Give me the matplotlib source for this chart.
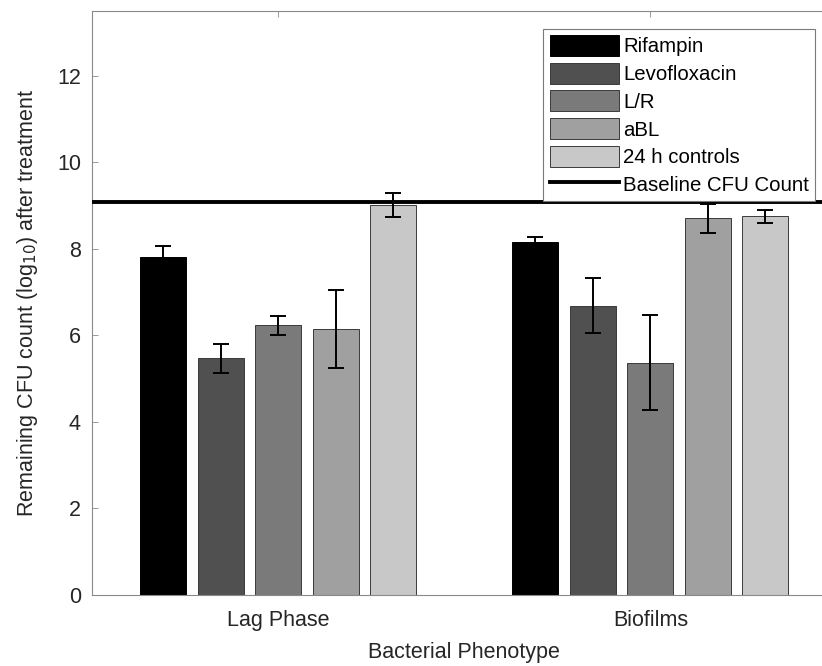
import matplotlib
matplotlib.use("Agg")
import matplotlib.pyplot as plt
import numpy as np

# ── data ──────────────────────────────────────────────
phenotypes = ["Lag Phase", "Biofilms"]
treatments = ["Rifampin", "Levofloxacin", "L/R", "aBL", "24 h controls"]
bar_colors = ["#000000", "#505050", "#7a7a7a", "#a0a0a0", "#c8c8c8"]

# mean log10 CFU, rows = treatment, cols = phenotype
means = [
    [7.82, 8.15],   # Rifampin
    [5.47, 6.69],   # Levofloxacin
    [6.24, 5.37],   # L/R
    [6.15, 8.71],   # aBL
    [9.02, 8.75],   # 24 h controls
]
errors = [
    [0.24, 0.13],
    [0.34, 0.64],
    [0.22, 1.10],
    [0.90, 0.34],
    [0.28, 0.16],
]
baseline = 9.09

plt.rcParams["font.family"] = ["Liberation Sans", "DejaVu Sans"]

fig = plt.figure(figsize=(8.22, 6.66), dpi=100)
# axes run past the right edge of the figure, as in the clipped original
ax = fig.add_axes([92 / 822, 71 / 666, (836.5 - 92) / 822, 584 / 666])

x = np.arange(1, len(phenotypes) + 1)
slot = 0.1545
width = 0.1236
n = len(treatments)
handles = []
for i, (name, col) in enumerate(zip(treatments, bar_colors)):
    pos = x + (i - (n - 1) / 2) * slot
    edge = "#000000" if i == 0 else "#3a3a3a"
    b = ax.bar(pos, means[i], width, color=col, edgecolor=edge, linewidth=0.7,
               label=name, zorder=2)
    handles.append(b)
    ax.errorbar(pos, means[i], yerr=errors[i], fmt="none", ecolor="black",
                elinewidth=1.4, capsize=5.5, capthick=1.4, zorder=3)

line = ax.axhline(baseline, color="black", linewidth=2.8, label="Baseline CFU Count", zorder=4)
handles.append(line)

ax.set_xlim(0.5, 2.5)
ax.set_ylim(0, 13.5)
ax.set_xticks(x)
ax.set_xticklabels(phenotypes)
ax.set_yticks(np.arange(0, 13, 2))

axis_col = "#8a8a8a"
for s in ax.spines.values():
    s.set_color(axis_col)
    s.set_linewidth(0.8)
ax.tick_params(direction="in", length=4, width=0.6, color=axis_col,
               labelsize=15.5, labelcolor="#262626", top=True, right=True)
ax.tick_params(axis="x", pad=11)
ax.tick_params(axis="y", pad=8)

ax.set_xlabel("Bacterial Phenotype", fontsize=15.5, color="#262626", labelpad=8)
ax.set_ylabel("Remaining CFU count (log$_{10}$) after treatment", fontsize=15.5,
              color="#262626", labelpad=12)

leg = ax.legend(handles=handles, loc="upper right",
                bbox_to_anchor=(815 / 822, 1 - 29 / 666),
                bbox_transform=fig.transFigure, borderaxespad=0, fontsize=14.7,
                frameon=True, fancybox=False, framealpha=1, edgecolor="#7a7a7a",
                handlelength=3.4, handleheight=1.2, handletextpad=0.2,
                labelspacing=0.31, borderpad=0.3)
leg.get_frame().set_linewidth(0.8)
leg.set_zorder(5)

fig.savefig("out.png", dpi=100)
